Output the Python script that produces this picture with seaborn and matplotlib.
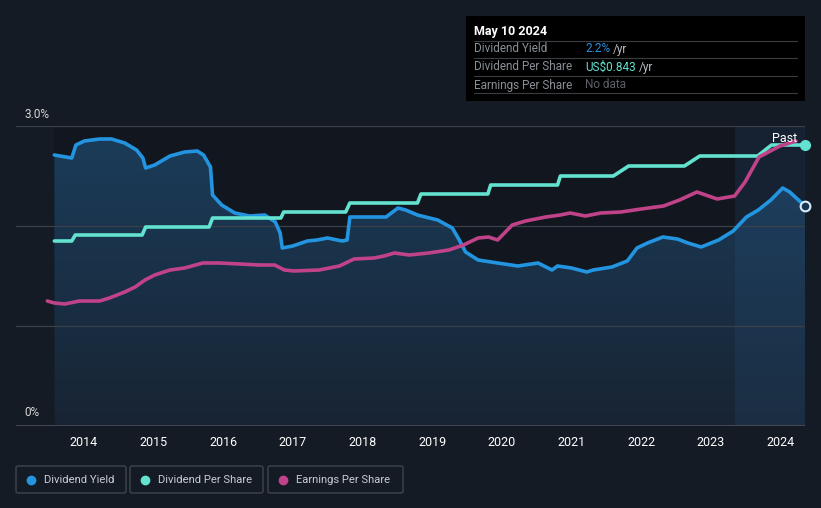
import matplotlib.pyplot as plt
import matplotlib.patches as mpatches
from matplotlib.colors import LinearSegmentedColormap
import seaborn as sns
import numpy as np
import pandas as pd

# dividend yield (%)
dy_t = [2013.58, 2013.83, 2013.89, 2014.01, 2014.23, 2014.40, 2014.59, 2014.76, 2014.85, 2014.89,
        2015.02, 2015.24, 2015.45, 2015.63, 2015.72, 2015.82, 2015.85, 2015.98, 2016.17, 2016.38,
        2016.60, 2016.75, 2016.82, 2016.85, 2017.00, 2017.21, 2017.35, 2017.50, 2017.71, 2017.78,
        2017.82, 2018.08, 2018.34, 2018.51, 2018.62, 2018.79, 2019.08, 2019.29, 2019.39, 2019.48,
        2019.66, 2019.94, 2020.23, 2020.52, 2020.72, 2020.80, 2021.00, 2021.22, 2021.31, 2021.58,
        2021.80, 2021.94, 2022.09, 2022.31, 2022.52, 2022.67, 2022.86, 2023.11, 2023.32, 2023.51,
        2023.68, 2023.86, 2024.03, 2024.13, 2024.35]
dy_v = [2.71, 2.68, 2.81, 2.85, 2.87, 2.87, 2.83, 2.76, 2.68, 2.58,
        2.61, 2.70, 2.74, 2.75, 2.71, 2.59, 2.31, 2.21, 2.13, 2.10,
        2.11, 2.04, 1.93, 1.78, 1.80, 1.85, 1.86, 1.88, 1.85, 1.86,
        2.09, 2.09, 2.09, 2.18, 2.16, 2.11, 2.06, 1.98, 1.86, 1.74,
        1.66, 1.63, 1.60, 1.63, 1.56, 1.60, 1.58, 1.54, 1.56, 1.59,
        1.65, 1.78, 1.83, 1.89, 1.87, 1.83, 1.79, 1.86, 1.95, 2.09,
        2.16, 2.26, 2.38, 2.34, 2.20]

# dividend per share (US$), step changes
dps_t = [2013.58, 2013.83, 2013.88, 2014.84, 2014.89, 2015.80, 2015.85, 2016.83, 2016.87, 2017.76,
         2017.82, 2018.79, 2018.84, 2019.80, 2019.84, 2020.80, 2020.84, 2021.60, 2021.82, 2022.62,
         2022.84, 2023.67, 2023.87, 2024.35]
dps_v = [0.555, 0.555, 0.573, 0.573, 0.597, 0.597, 0.624, 0.624, 0.642, 0.642,
         0.669, 0.669, 0.696, 0.696, 0.723, 0.723, 0.750, 0.750, 0.780, 0.780,
         0.810, 0.810, 0.843, 0.843]

# earnings per share (relative scale, no axis shown)
eps_t = [2013.48, 2013.58, 2013.73, 2013.94, 2014.23, 2014.37, 2014.59, 2014.74, 2014.88, 2015.02,
         2015.24, 2015.45, 2015.71, 2015.95, 2016.24, 2016.52, 2016.74, 2016.88, 2017.02, 2017.38,
         2017.67, 2017.88, 2018.17, 2018.31, 2018.46, 2018.67, 2018.95, 2019.24, 2019.45, 2019.66,
         2019.81, 2019.94, 2020.15, 2020.34, 2020.63, 2020.84, 2020.98, 2021.20, 2021.42, 2021.71,
         2022.00, 2022.32, 2022.55, 2022.80, 2023.09, 2023.34, 2023.49, 2023.69, 2023.99, 2024.22]
eps_v = [1.25, 1.23, 1.22, 1.25, 1.25, 1.28, 1.34, 1.39, 1.46, 1.51,
         1.56, 1.58, 1.63, 1.63, 1.62, 1.61, 1.61, 1.56, 1.55, 1.56,
         1.60, 1.67, 1.68, 1.70, 1.73, 1.71, 1.73, 1.76, 1.81, 1.88,
         1.89, 1.86, 2.01, 2.05, 2.09, 2.11, 2.13, 2.10, 2.13, 2.14,
         2.17, 2.20, 2.26, 2.34, 2.27, 2.30, 2.44, 2.69, 2.80, 2.85]

years = list(range(2014, 2025))
past_start = 2023.34

BG = "#151b25"
BLUE = "#2394e0"
TEAL = "#62e2cf"
PINK = "#c0438a"

sns.set_style("dark")
plt.rcParams["font.family"] = ["Roboto", "DejaVu Sans"]

fig = plt.figure(figsize=(8.21, 5.08), dpi=100, facecolor=BG)
ax = fig.add_axes([16 / 821, 82 / 508, 789 / 821, 300 / 508])
ax.set_facecolor("#12161e")
x0, x1 = 2013.03, 2024.35
ax.set_xlim(x0, x1)
ax.set_ylim(0, 3)

# left margin before data is background coloured
ax.axvspan(x0, dy_t[0], color=BG, zorder=0, lw=0)

# gradient fill under dividend yield
poly_x = [dy_t[0]] + dy_t + [dy_t[-1]]
poly_y = [0] + dy_v + [0]
cmap = LinearSegmentedColormap.from_list("g", ["#182433", "#1b3d5b"])
im = ax.imshow(np.linspace(1, 0, 256).reshape(-1, 1), extent=[x0, x1, 0, 3], aspect="auto",
               cmap=cmap, origin="upper", zorder=1)
clip = mpatches.Polygon(np.column_stack([poly_x, poly_y]), closed=True, transform=ax.transData, fc="none", ec="none")
ax.add_patch(clip)
im.set_clip_path(clip)

# past shading
ax.axvspan(past_start, x1, color="#2a5a8a", alpha=0.18, zorder=2, lw=0)

for yv in [1, 2, 3]:
    ax.axhline(yv, color="#3b414b", lw=0.9, zorder=2)
ax.axhline(0, color="#4a4f58", lw=1.2, zorder=2)

dy_df = pd.DataFrame({"t": dy_t, "v": dy_v})
sns.lineplot(data=dy_df, x="t", y="v", ax=ax, color=BLUE, lw=2.6, zorder=5)

ax2 = ax.twinx()
ax2.set_ylim(0, 0.843 * 300 / 281)
dps_df = pd.DataFrame({"t": dps_t, "v": dps_v})
sns.lineplot(data=dps_df, x="t", y="v", ax=ax2, color=TEAL, lw=2.6, zorder=5)
ax2.plot([dps_t[-1]], [dps_v[-1]], "o", ms=7, color=TEAL, mec=TEAL, zorder=6, clip_on=False)

ax3 = ax.twinx()
ax3.set_ylim(0, 3)
eps_df = pd.DataFrame({"t": eps_t, "v": eps_v})
sns.lineplot(data=eps_df, x="t", y="v", ax=ax3, color=PINK, lw=2.6, zorder=4)

ax.plot([dy_t[-1]], [dy_v[-1]], "o", ms=7, mfc="#1a3550", mec="#d8ecff", mew=1.5, zorder=7, clip_on=False)

for a in (ax2, ax3):
    a.set_xlim(x0, x1)
    a.set_yticks([])
    a.set_ylabel("")
    a.patch.set_visible(False)
    for s in a.spines.values():
        s.set_visible(False)

ax.set_yticks([])
ax.set_xticks(years)
ax.set_xticklabels([str(y) for y in years], color="white", fontsize=9)
ax.tick_params(axis="x", length=4, color="#4a4f58", pad=3)
ax.set_xlabel("")
ax.set_ylabel("")
for s in ax.spines.values():
    s.set_visible(False)

fig.text(24 / 821, 1 - 114 / 508, "3.0%", color="#d8d8d8", fontsize=8.5, va="center")
fig.text(24 / 821, 1 - 413 / 508, "0%", color="#d8d8d8", fontsize=8.5, va="center")
fig.text(785 / 821, 1 - 138 / 508, "Past", color="white", fontsize=9, ha="center", va="center")

# tooltip box
fig.patches.append(mpatches.Rectangle((466 / 821, 1 - 101 / 508), 339 / 821, 85 / 508,
                                      transform=fig.transFigure, fc="black", ec="none"))
fig.text(474 / 821, 1 - 31 / 508, "May 10 2024", color="white", fontsize=9, fontweight="bold", va="center")
rows = [("Dividend Yield", "2.2%", BLUE), ("Dividend Per Share", "US$0.843", TEAL), ("Earnings Per Share", "No data", None)]
fig.canvas.draw()
for i, (lab, val, c) in enumerate(rows):
    yy = 1 - (49 + i * 18) / 508
    fig.text(474 / 821, yy, lab, color="#8a8f98", fontsize=8.5, va="center")
    if c is None:
        fig.text(585 / 821, yy, val, color="#5c6068", fontsize=8.5, va="center")
    else:
        t = fig.text(585 / 821, yy, val, color=c, fontsize=8.5, va="center")
        bb = t.get_window_extent(renderer=fig.canvas.get_renderer())
        fig.text(bb.x1 / 821 + 3 / 821, yy, "/yr", color="#b8bcc4", fontsize=8.5, va="center")
for yl in [41, 58, 76, 93]:
    fig.add_artist(plt.Line2D([474 / 821, 797 / 821], [1 - yl / 508] * 2, color="#3a3d42", lw=0.8))

# legend boxes
items = [("Dividend Yield", BLUE, 16, 126), ("Dividend Per Share", TEAL, 130, 263), ("Earnings Per Share", PINK, 268, 403)]
for lab, c, l, r in items:
    fig.patches.append(mpatches.FancyBboxPatch((l / 821, 1 - 493 / 508), (r - l) / 821, 27 / 508,
                                               boxstyle="round,pad=0,rounding_size=0.003",
                                               transform=fig.transFigure, fc=BG, ec="#40454d", lw=1))
    fig.add_artist(plt.Line2D([(l + 15) / 821], [1 - 480 / 508], marker="o", ms=6, color=c, transform=fig.transFigure))
    fig.text((l + 28) / 821, 1 - 480 / 508, lab, color="#c8ccd2", fontsize=8.1, va="center")

fig.savefig("out.png", dpi=100, facecolor=BG)
